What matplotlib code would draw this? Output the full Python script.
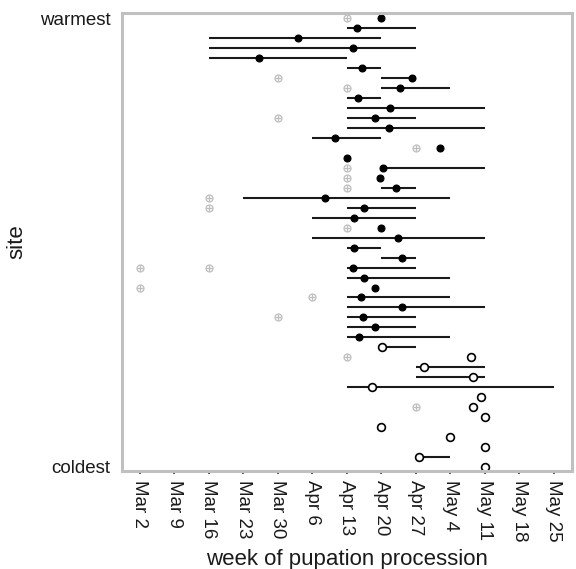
import numpy as np
import matplotlib
matplotlib.use("Agg")
import matplotlib.pyplot as plt

plt.rcParams['font.family'] = ['Liberation Sans', 'DejaVu Sans']

# x axis: weeks since Mar 2
week_labels = ["Mar 2", "Mar 9", "Mar 16", "Mar 23", "Mar 30", "Apr 6", "Apr 13",
               "Apr 20", "Apr 27", "May 4", "May 11", "May 18", "May 25"]
site_labels = ["warmest", "coldest"]

nan = np.nan
# per site (row 0 = warmest ... row 45 = coldest)
range_start = [nan, 6, 2, 2, 2, 6, 7, 7, 6, 6, 6, 6, 5, nan, nan, 7, nan, 7, 3, 6,
               5, nan, 5, 6, 7, 6, 6, nan, 6, 6, 6, 6, 6, 7, nan, 8, 8, 6, nan, nan,
               nan, nan, nan, nan, 8, nan]
range_end = [nan, 8, 7, 8, 6, 7, 8, 9, 7, 10, 8, 10, 7, nan, nan, 10, nan, 8, 9, 8,
             8, nan, 10, 7, 8, 8, 9, nan, 9, 10, 8, 8, 9, 8, nan, 10, 10, 12, nan, nan,
             nan, nan, nan, nan, 9, nan]
peak_week = [7.0, 6.30, 4.59, 6.17, 3.45, 6.45, 7.88, 7.54, 6.32, 7.26, 6.83, 7.21,
             5.66, 8.71, 6.0, 7.06, 6.96, 7.43, 5.36, 6.51, 6.22, 6.99, 7.48, 6.21,
             7.60, 6.17, 6.51, 6.83, 6.41, 7.60, 6.48, 6.81, 6.36, 7.03, 9.59, 8.25,
             9.65, 6.72, 9.90, 9.66, 10.0, 7.0, 9.0, 10.0, 8.08, 10.0]
filled = [True] * 33 + [False] * 13

# grey crossed-circle markers (site row, week)
grey_site = [0, 6, 7, 10, 13, 15, 16, 17, 18, 19, 21, 25, 25, 27, 28, 30, 34, 39]
grey_week = [6, 4, 6, 4, 8, 6, 6, 6, 2, 2, 6, 0, 2, 0, 5, 4, 6, 8]

fig = plt.figure(figsize=(5.76, 5.69), dpi=100)
ax = fig.add_axes([0.2113, 0.1728, 0.7812, 0.8038])

rows = np.arange(len(peak_week))
rs = np.array(range_start, dtype=float)
re = np.array(range_end, dtype=float)
pk = np.array(peak_week)
fl = np.array(filled)

# grey markers
ax.plot(grey_week, grey_site, 'o', ms=5.0, mfc='none', mec='#bdbdbd', mew=0.9, zorder=1)
ax.plot(grey_week, grey_site, '+', ms=5.0, mec='#bdbdbd', mew=0.9, zorder=1)

# ranges
ax.hlines(rows, rs, re, colors='#1a1a1a', lw=1.5, zorder=1.8)

# peaks
ax.plot(pk[fl], rows[fl], 'o', ms=5, mfc='black', mec='black', mew=0.8, zorder=2.2)
ax.plot(pk[~fl], rows[~fl], 'o', ms=5.6, mfc='white', mec='black', mew=1.2, zorder=2.2)

ax.set_xlim(-0.53, 12.52)
ax.set_ylim(45.37, -0.5)
ax.set_xticks(np.arange(len(week_labels)))
ax.set_xticklabels(week_labels, rotation=270, fontsize=13.5, color='#1a1a1a')
ax.set_yticks([0, len(peak_week) - 1])
ax.set_yticklabels(site_labels, fontsize=13.5, color='#1a1a1a')
ax.tick_params(axis='x', length=2.5, width=1.2, color='#333333', pad=4.5)
ax.tick_params(axis='y', length=0, pad=8)

for sp in ax.spines.values():
    sp.set_color('#c0c0c0')
    sp.set_linewidth(2.2)
    sp.set_zorder(3)

ax.set_xlabel("week of pupation procession", fontsize=16, color='#1a1a1a')
ax.set_ylabel("site", fontsize=16, color='#1a1a1a')
ax.xaxis.set_label_coords(0.5, -0.172)
ax.yaxis.set_label_coords(-0.21, 0.5)

fig.savefig("out.png", dpi=100)
